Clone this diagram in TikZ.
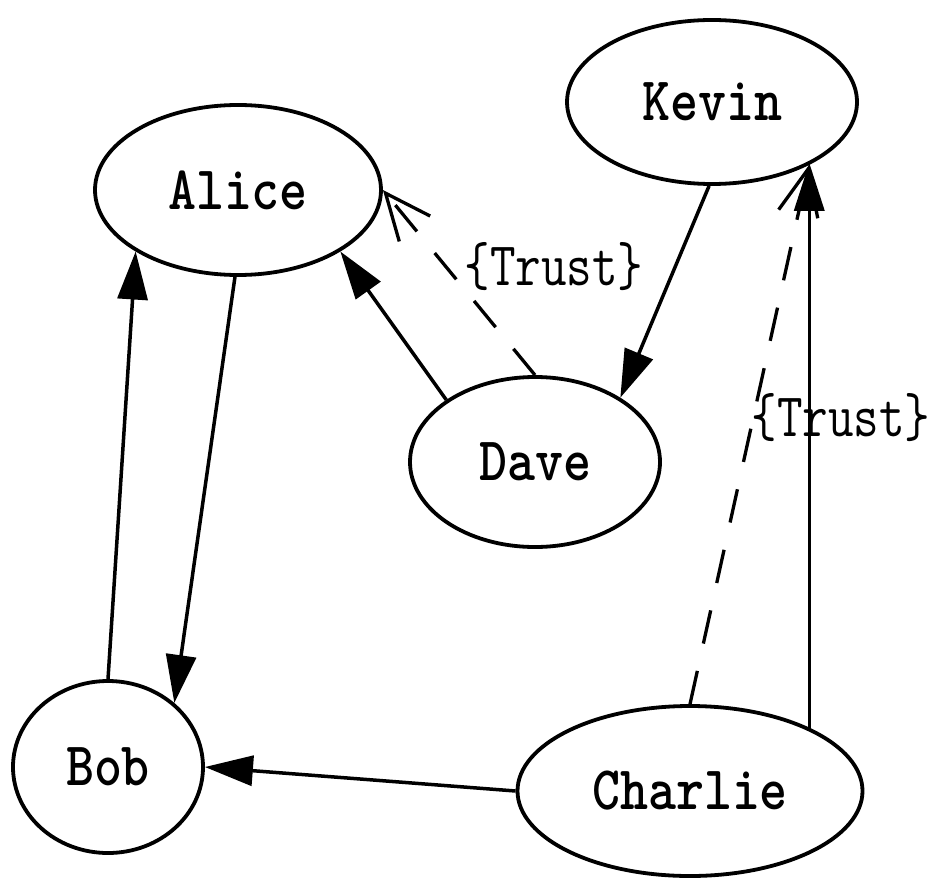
\documentclass[tikz,border=0pt]{standalone}
\usepackage{fontspec}
\usepackage{graphicx}
\usetikzlibrary{shapes.geometric,arrows.meta}

% narrow, tall typewriter lettering
\newcommand{\personname}[1]{\scalebox{0.86}[1]{\fontsize{62}{62}\selectfont\ttfamily\bfseries #1}}
\newcommand{\edgetext}[1]{\scalebox{0.8}[1]{\fontsize{62}{62}\selectfont\ttfamily #1}}

\begin{document}
\begin{tikzpicture}[x=1pt,y=-1pt,
  person/.style={ellipse, draw, line width=3.8pt, inner sep=0pt},
  link/.style={line width=3.5pt, -{Triangle[length=48pt,width=30pt]}},
  trustlink/.style={line width=3.3pt, dash pattern=on 34pt off 28pt,
                    -{Straight Barb[length=46pt,width=40pt,line width=3.3pt]}},
  trustlabel/.style={inner sep=0pt}
]
\useasboundingbox (0,0) rectangle (933,877);

% people
\node[person, minimum width=286pt, minimum height=170pt] (alice)   at (238,190) {\personname{Alice}};
\node[person, minimum width=290pt, minimum height=164pt] (kevin)   at (712,102) {\personname{Kevin}};
\node[person, minimum width=250pt, minimum height=170pt] (dave)    at (535,462) {\personname{Dave}};
\node[person, minimum width=190pt, minimum height=172pt] (bob)     at (108,767) {\personname{Bob}};
\node[person, minimum width=345pt, minimum height=170pt] (charlie) at (690,791) {\personname{Charlie}};

% ordinary links
\draw[link] (bob.north) -- (alice.211);
\draw[link] (alice.268) -- (bob.44);
\draw[link] (dave.145) -- (alice.329);
\draw[link] (kevin.268) -- (dave.37);
\draw[link] (charlie.180) -- (bob.east);
\draw[link] (charlie.28) -- (charlie.28 |- kevin.329);

% trust links
\draw[trustlink] (dave.north) -- (alice.east);
\draw[trustlink] (charlie.north) -- (kevin.327);

\node[trustlabel] (trust1) at (554,267) {\edgetext{\{Trust\}}};
\node[trustlabel] (trust2) at (841,418) {\edgetext{\{Trust\}}};
\end{tikzpicture}
\end{document}
